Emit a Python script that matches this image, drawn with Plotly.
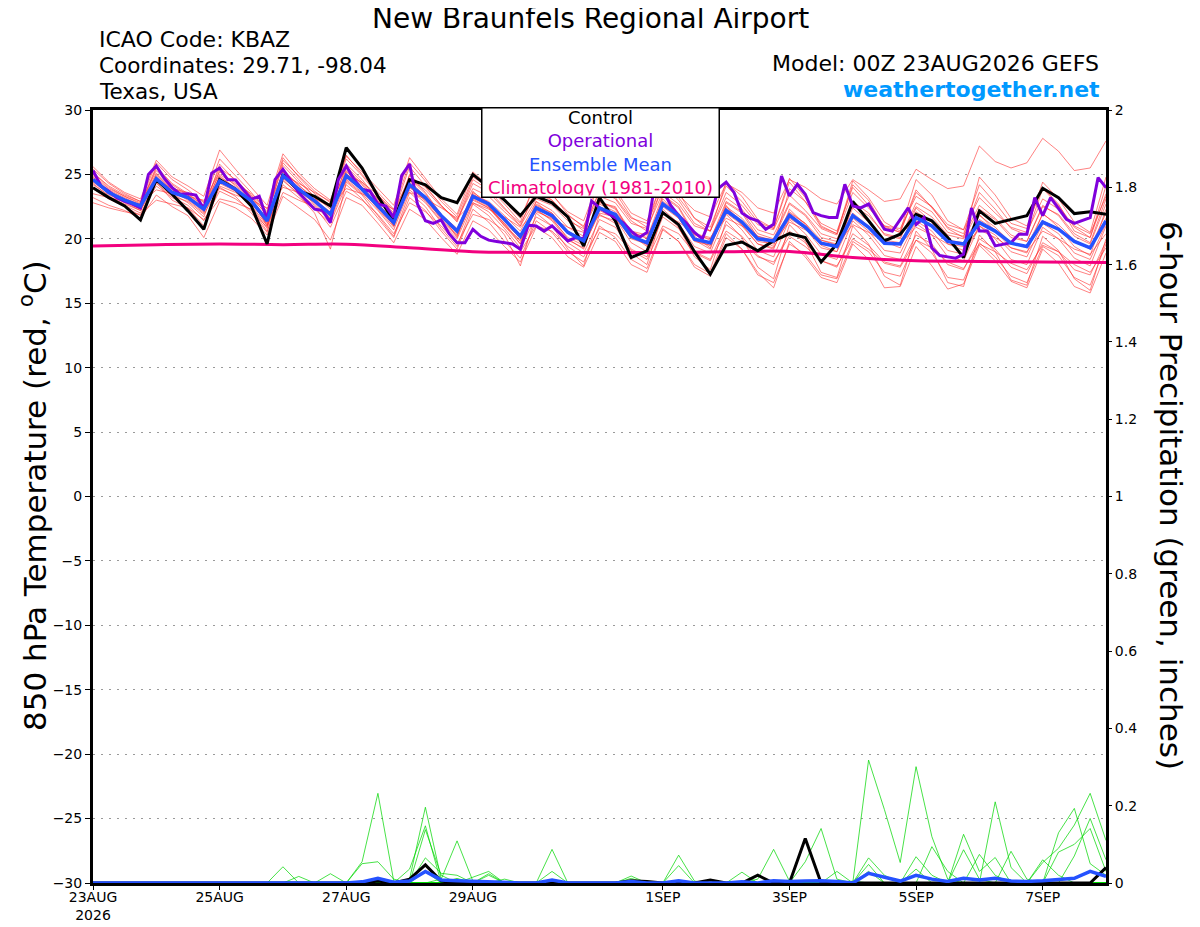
import pandas as pd
import plotly.graph_objects as go

# GEFS members / control / mean every 6 h, operational GFS every 3 h, 16 days
times = pd.date_range("2026-08-23 00:00", periods=65, freq="6h")
op_times = pd.date_range("2026-08-23 00:00", periods=129, freq="3h")
clim_times = pd.date_range("2026-08-23 00:00", periods=17, freq="1D")

tick_dates = ["2026-08-23", "2026-08-25", "2026-08-27", "2026-08-29",
              "2026-09-01", "2026-09-03", "2026-09-05", "2026-09-07"]
tick_text = ["23AUG<br>2026", "25AUG", "27AUG", "29AUG", "1SEP", "3SEP", "5SEP", "7SEP"]

# 850 hPa temperature (C)
control_t = [23.97, 23.2, 22.55, 21.47, 24.6, 23.46, 22.17, 20.74, 24.6, 23.85, 22.55, 19.6, 25.0, 23.7, 23.3, 22.55, 27.07,
             25.5, 23.3, 21.4, 24.6, 24.2, 23.2, 22.8, 25.0, 24.0, 23.0, 21.8, 23.3, 22.8, 21.7, 19.45, 23.2,
             21.4, 18.55, 19.07, 22.04, 21.1, 19.0, 17.26, 19.5, 19.75, 19.07, 19.85, 20.4, 20.1, 18.2, 19.6, 22.9,
             21.4, 19.84, 20.36, 21.9, 21.4, 20.1, 18.55, 22.17, 21.2, 21.5, 21.8, 23.93, 23.2, 21.96, 22.1, 21.9]

mean_t = [24.6, 23.6, 23.0, 22.55, 24.67, 23.6, 23.2, 22.3, 24.5, 23.85, 22.94, 21.4, 24.9, 23.85, 22.94, 21.9, 24.9,
          23.85, 22.55, 21.26, 24.2, 23.2, 21.8, 20.6, 23.3, 22.7, 21.5, 20.2, 22.4, 21.8, 20.5, 19.84, 22.4,
          21.9, 20.2, 19.7, 22.7, 21.8, 19.97, 19.7, 22.2, 21.3, 20.0, 19.84, 21.83, 20.9, 19.66, 19.4, 21.8,
          20.9, 19.66, 19.6, 21.65, 21.0, 19.8, 19.6, 21.26, 20.6, 19.66, 19.4, 21.3, 20.75, 19.8, 19.3, 21.4]

oper_t = [25.3, 24.1, 23.7, 23.2, 22.9, 22.7, 22.4, 25.0, 25.65, 24.7, 23.98, 23.46, 23.5, 23.4, 22.3, 25.1, 25.5,
          24.6, 24.57, 23.85, 23.07, 23.3, 21.5, 24.6, 25.4, 24.5, 23.6, 22.94, 22.3, 22.2, 21.26, 24.6, 25.65,
          24.6, 23.85, 23.7, 22.7, 22.55, 21.65, 24.9, 25.8, 22.7, 21.4, 21.2, 21.47, 20.4, 19.7, 19.7, 20.74,
          20.2, 19.9, 19.8, 19.7, 19.6, 19.2, 21.06, 21.0, 20.6, 21.0, 20.4, 19.84, 20.1, 20.0, 22.94, 22.4,
          22.0, 21.65, 21.26, 20.6, 20.1, 20.5, 24.3, 23.8, 22.6, 21.8, 21.2, 20.5, 20.0, 21.6, 23.9, 24.4,
          23.6, 22.0, 21.6, 21.4, 20.74, 21.13, 24.88, 23.33, 24.23, 23.46, 22.04, 21.8, 21.65, 21.65, 24.23, 22.55,
          22.4, 22.7, 21.7, 20.74, 20.6, 21.5, 22.4, 21.1, 21.65, 19.3, 18.7, 18.6, 18.5, 18.8, 22.4, 20.6,
          20.6, 19.45, 19.6, 19.7, 20.36, 20.36, 23.2, 21.8, 23.2, 22.4, 21.52, 21.2, 21.4, 21.65, 24.75, 23.97]

clim_t = [19.45, 19.55, 19.6, 19.55, 19.58, 19.3, 19.0, 18.94, 18.94, 18.94, 19.0, 19.02, 18.55, 18.3, 18.25, 18.2, 18.16]

members_t = [
    [25.4, 24.3, 23.5, 22.9, 25.9, 24.6, 23.8, 22.8, 26.2, 24.9, 23.6, 22.1, 26.3, 24.8, 23.5, 22.6, 26.2,
     24.9, 23.4, 22.0, 25.6, 24.1, 22.6, 21.4, 24.6, 23.8, 22.4, 21.0, 23.9, 23.0, 21.6, 20.6, 23.8,
     23.1, 21.4, 20.6, 24.2, 23.0, 21.2, 20.6, 23.6, 22.6, 21.1, 20.7, 23.4, 22.2, 20.8, 20.3, 23.6,
     22.4, 21.0, 20.8, 23.3, 22.5, 21.1, 20.7, 23.2, 22.0, 20.9, 20.5, 23.1, 22.3, 21.0, 20.4, 23.3],
    [22.8, 22.4, 22.1, 21.9, 23.0, 22.7, 22.4, 21.5, 23.1, 22.8, 22.3, 20.6, 23.6, 23.0, 22.5, 20.9, 23.7,
     23.0, 21.9, 20.4, 22.8, 22.1, 21.0, 19.6, 21.9, 21.5, 20.6, 19.0, 21.0, 20.6, 19.4, 18.6, 20.8,
     20.4, 19.1, 18.4, 21.0, 20.4, 18.9, 18.3, 20.6, 19.8, 18.6, 18.2, 20.2, 19.4, 18.3, 17.9, 20.0,
     19.2, 18.1, 17.8, 19.9, 19.3, 18.2, 17.7, 19.6, 19.0, 18.1, 17.6, 19.5, 19.0, 18.0, 17.4, 19.3],
    [25.0, 23.9, 23.3, 22.8, 25.3, 24.0, 23.4, 22.6, 25.0, 24.2, 23.2, 21.9, 25.7, 24.4, 23.3, 22.3, 25.6,
     24.4, 23.1, 21.9, 24.9, 24.0, 22.6, 21.3, 24.3, 23.6, 22.3, 21.2, 23.5, 23.0, 21.8, 21.0, 23.6,
     23.2, 21.6, 21.2, 24.0, 23.4, 22.2, 21.7, 24.3, 23.6, 22.4, 22.0, 24.6, 24.0, 23.1, 22.7, 24.6,
     23.8, 22.9, 23.1, 25.4, 24.6, 23.9, 24.1, 27.2, 26.0, 25.5, 25.9, 27.8, 26.8, 25.3, 25.5, 27.6],
    [24.2, 23.4, 22.9, 22.3, 24.9, 23.7, 23.0, 22.0, 25.3, 24.1, 23.1, 21.0, 25.4, 24.1, 23.2, 21.5, 25.2,
     24.3, 22.9, 21.0, 25.0, 23.6, 21.9, 20.1, 23.7, 22.5, 21.2, 19.6, 22.9, 21.6, 20.0, 19.2, 22.9,
     22.3, 20.4, 19.5, 23.1, 21.8, 19.9, 19.2, 22.6, 21.0, 19.6, 19.2, 22.3, 21.1, 19.5, 19.0, 22.8,
     21.4, 19.8, 19.3, 22.4, 21.3, 19.6, 19.1, 21.9, 20.6, 19.3, 18.9, 22.0, 20.9, 19.4, 18.7, 22.3],
    [24.0, 23.1, 22.5, 21.8, 24.4, 23.0, 22.4, 21.0, 24.0, 23.3, 22.0, 20.5, 24.6, 23.4, 22.0, 19.2, 24.4,
     23.4, 21.8, 20.2, 23.6, 22.5, 20.8, 19.4, 22.7, 21.8, 20.3, 17.9, 22.0, 21.0, 19.2, 17.9, 21.9,
     21.2, 18.9, 18.0, 22.1, 20.9, 18.6, 17.6, 21.4, 20.1, 17.8, 16.9, 21.1, 19.8, 17.4, 17.0, 21.0,
     19.6, 17.1, 16.4, 20.6, 19.2, 16.6, 16.3, 20.3, 19.0, 16.8, 16.4, 20.2, 19.1, 16.9, 16.0, 20.0],
    [25.6, 24.4, 23.6, 23.1, 26.1, 24.8, 24.1, 23.3, 26.9, 25.4, 24.0, 22.6, 26.6, 25.1, 23.9, 23.0, 26.4,
     25.2, 23.9, 22.6, 26.3, 24.7, 23.1, 21.9, 25.2, 24.1, 22.9, 21.6, 24.4, 23.4, 22.1, 21.4, 24.6,
     23.8, 22.0, 21.4, 24.5, 23.2, 21.6, 20.9, 24.1, 22.9, 21.3, 20.8, 24.4, 22.9, 21.2, 20.6, 24.0,
     22.6, 21.0, 20.5, 23.8, 22.4, 20.9, 20.4, 23.6, 22.3, 20.8, 20.3, 23.9, 22.6, 20.9, 20.1, 24.1],
    [23.5, 23.2, 22.9, 22.7, 23.8, 23.5, 23.3, 23.0, 23.9, 23.4, 23.0, 22.4, 24.0, 23.6, 23.1, 22.5, 23.9,
     23.5, 22.9, 22.3, 23.6, 23.1, 22.4, 21.6, 22.8, 22.3, 21.7, 20.9, 22.1, 21.6, 20.9, 20.5, 21.8,
     21.4, 20.6, 20.3, 21.9, 21.3, 20.4, 20.1, 21.6, 21.0, 20.2, 19.8, 21.3, 20.7, 19.9, 19.5, 21.1,
     20.5, 19.8, 19.6, 20.9, 20.3, 19.6, 19.4, 20.7, 20.1, 19.3, 19.0, 20.6, 20.0, 19.2, 18.8, 20.4],
    [24.9, 23.8, 23.2, 22.6, 25.1, 23.9, 23.3, 22.5, 24.8, 24.0, 22.8, 21.2, 25.3, 24.2, 23.0, 22.1, 25.8,
     24.6, 23.0, 21.6, 24.7, 23.5, 21.9, 20.7, 23.6, 22.8, 21.4, 20.0, 22.6, 22.0, 20.6, 19.9, 22.9,
     22.4, 20.6, 20.0, 23.4, 22.5, 20.4, 19.9, 22.9, 22.1, 20.4, 20.0, 22.7, 21.8, 20.1, 19.8, 22.9,
     22.0, 20.3, 20.0, 22.8, 22.1, 20.5, 20.2, 22.6, 21.6, 20.3, 19.8, 22.5, 21.9, 20.4, 19.7, 23.1],
    [24.5, 23.5, 22.8, 22.2, 24.3, 23.3, 22.9, 21.9, 24.1, 23.6, 22.6, 21.0, 24.5, 23.5, 22.6, 21.4, 24.5,
     23.5, 22.2, 20.7, 23.8, 22.8, 21.3, 20.0, 22.8, 22.1, 20.8, 19.3, 21.7, 21.0, 19.7, 18.9, 21.5,
     20.9, 19.2, 18.6, 21.7, 20.8, 19.0, 18.4, 21.1, 20.2, 18.7, 18.0, 20.6, 19.7, 18.3, 17.8, 20.4,
     19.5, 18.2, 17.9, 20.3, 19.6, 18.0, 17.6, 20.0, 19.2, 17.8, 17.3, 19.7, 19.0, 17.6, 17.2, 19.8],
    [24.7, 23.7, 23.1, 22.5, 25.5, 24.2, 23.4, 22.2, 25.8, 24.5, 23.3, 21.8, 25.9, 24.6, 23.2, 21.8, 25.3,
     24.0, 22.4, 21.1, 24.4, 23.2, 21.5, 20.3, 23.0, 22.4, 21.0, 19.9, 22.2, 21.5, 20.1, 19.5, 22.0,
     21.7, 20.0, 19.6, 22.8, 21.6, 19.8, 19.5, 22.4, 21.4, 19.8, 19.6, 22.0, 21.2, 19.6, 19.4, 22.4,
     21.3, 19.7, 19.6, 22.1, 21.3, 19.9, 19.7, 21.8, 20.9, 19.7, 19.4, 21.9, 21.1, 19.9, 19.3, 22.0],
    [25.2, 24.0, 23.3, 22.7, 25.6, 24.3, 23.5, 22.6, 25.5, 24.6, 23.4, 22.0, 26.1, 24.9, 23.7, 22.8, 26.5,
     25.0, 23.6, 22.3, 25.9, 24.5, 22.9, 21.7, 24.8, 24.0, 22.7, 21.3, 24.6, 23.5, 21.9, 20.9, 24.5,
     23.6, 21.7, 20.9, 24.8, 23.6, 21.6, 20.6, 24.4, 23.3, 21.5, 20.8, 24.7, 23.2, 21.0, 20.4, 24.5,
     23.2, 21.3, 20.6, 24.6, 23.4, 21.4, 20.7, 24.2, 22.8, 21.2, 20.8, 24.4, 23.1, 21.3, 20.5, 24.8],
    [23.9, 23.1, 22.6, 22.0, 24.1, 23.2, 22.6, 21.4, 23.7, 23.1, 22.2, 20.9, 24.2, 23.2, 22.3, 21.2, 24.2,
     23.1, 21.6, 20.1, 23.2, 22.2, 20.6, 19.2, 22.3, 21.3, 19.8, 18.5, 21.4, 20.5, 19.0, 18.2, 21.0,
     20.1, 18.4, 17.7, 20.8, 19.8, 18.0, 17.3, 20.4, 19.2, 17.4, 16.2, 19.8, 18.6, 17.0, 16.6, 19.6,
     18.4, 16.2, 16.3, 19.4, 17.9, 16.1, 16.5, 19.5, 18.3, 16.7, 16.2, 19.2, 18.1, 16.3, 15.8, 18.9],
    [24.4, 23.5, 23.0, 22.4, 24.6, 23.6, 23.1, 22.4, 24.4, 23.8, 23.1, 21.6, 24.8, 23.9, 23.0, 21.7, 24.7,
     23.8, 22.7, 21.5, 24.0, 23.1, 21.9, 20.8, 23.4, 22.9, 21.8, 20.6, 22.9, 22.2, 20.9, 20.2, 22.7,
     22.1, 20.5, 20.1, 22.9, 22.0, 20.3, 20.0, 22.5, 21.6, 20.2, 19.9, 22.1, 21.2, 19.9, 19.6, 22.0,
     21.0, 19.9, 19.7, 21.8, 21.1, 19.9, 19.6, 21.5, 20.7, 19.7, 19.3, 21.4, 20.8, 19.8, 19.2, 21.6],
    [24.8, 23.6, 22.9, 22.3, 25.0, 23.8, 23.1, 22.1, 24.6, 23.7, 22.5, 20.8, 24.9, 23.8, 22.7, 21.5, 25.1,
     23.9, 22.3, 20.9, 24.1, 22.9, 21.4, 20.2, 23.2, 22.5, 21.0, 19.6, 22.7, 22.0, 20.4, 19.6, 22.8,
     22.5, 20.3, 19.4, 23.3, 22.4, 20.2, 19.3, 22.8, 22.0, 20.1, 19.4, 23.9, 22.9, 20.9, 20.4, 24.2,
     23.0, 20.9, 20.5, 23.6, 22.5, 20.8, 20.1, 24.8, 23.4, 21.6, 21.0, 24.0, 22.7, 20.6, 20.1, 23.5],
    [24.3, 23.3, 22.7, 22.2, 24.7, 23.5, 22.8, 21.7, 24.9, 23.9, 22.7, 21.3, 25.2, 24.0, 22.9, 21.6, 25.5,
     24.2, 22.5, 21.0, 24.5, 23.3, 21.7, 20.4, 23.5, 22.6, 21.1, 19.8, 22.3, 21.4, 19.9, 19.3, 22.2,
     21.6, 19.7, 19.0, 22.3, 21.2, 19.4, 18.9, 21.9, 20.7, 19.1, 18.6, 21.5, 20.4, 18.8, 18.4, 21.4,
     20.3, 18.7, 18.4, 21.2, 20.3, 18.6, 18.3, 21.0, 20.0, 18.4, 18.0, 20.9, 20.0, 18.5, 17.9, 21.0],
    [25.1, 24.1, 23.4, 22.9, 24.6, 23.9, 23.6, 22.9, 25.2, 24.3, 23.5, 22.3, 25.0, 24.3, 23.6, 22.9, 25.0,
     24.4, 23.4, 22.2, 24.6, 23.8, 22.5, 21.5, 23.9, 23.3, 22.1, 21.0, 23.1, 22.6, 21.4, 20.8, 23.3,
     22.8, 21.2, 20.8, 23.6, 22.7, 21.0, 20.6, 23.2, 22.3, 20.7, 20.3, 22.8, 21.9, 20.4, 20.0, 22.6,
     21.8, 20.4, 20.1, 22.5, 21.7, 20.3, 20.0, 22.3, 21.5, 20.1, 19.8, 22.6, 21.8, 20.2, 19.6, 22.7],
    [23.2, 22.6, 22.2, 21.6, 23.4, 22.5, 21.8, 20.1, 22.9, 22.4, 21.6, 20.3, 23.3, 22.4, 21.5, 19.9, 23.2,
     22.6, 21.2, 19.7, 22.3, 21.5, 20.1, 18.8, 21.4, 20.7, 19.4, 18.2, 20.9, 20.1, 18.6, 17.8, 20.5,
     19.8, 18.0, 17.4, 20.7, 19.8, 17.8, 17.1, 20.1, 19.2, 17.2, 16.6, 19.6, 18.8, 17.2, 16.9, 19.8,
     19.0, 17.4, 17.1, 19.9, 18.9, 17.0, 16.8, 19.7, 18.6, 17.1, 16.6, 19.4, 18.7, 17.0, 16.4, 19.6],
    [24.6, 23.6, 23.1, 22.6, 24.8, 23.7, 23.2, 22.2, 24.3, 23.7, 22.9, 21.1, 24.7, 23.7, 22.8, 21.8, 24.6,
     23.6, 22.4, 21.1, 24.0, 23.0, 21.6, 20.5, 23.1, 22.4, 21.2, 20.1, 22.5, 21.9, 20.6, 19.9, 22.5,
     21.9, 20.1, 19.6, 22.5, 21.6, 19.9, 19.5, 22.0, 21.1, 19.6, 19.3, 21.6, 20.8, 19.3, 19.0, 21.6,
     20.6, 19.1, 18.9, 21.4, 20.6, 19.1, 18.8, 21.0, 20.3, 19.0, 18.6, 21.2, 20.4, 18.9, 18.4, 21.2],
]

# 6-hour precipitation (inches), step index -> amount; unlisted steps are dry
members_p = [
    {12: 0.042, 17: 0.055, 18: 0.232, 19: 0.005, 34: 0.018},
    {13: 0.017, 22: 0.01, 23: 0.109, 24: 0.005, 34: 0.012},
    {15: 0.024, 24: 0.015, 25: 0.03},
    {17: 0.05, 18: 0.055, 19: 0.01, 25: 0.024, 37: 0.072, 38: 0.005},
    {20: 0.01, 21: 0.196, 22: 0.01, 25: 0.02, 37: 0.045},
    {20: 0.036, 21: 0.148, 41: 0.028},
    {21: 0.138, 22: 0.02, 42: 0.01, 43: 0.087, 44: 0.005},
    {21: 0.065, 22: 0.025, 23: 0.02, 45: 0.055, 46: 0.141, 47: 0.01},
    {21: 0.03, 23: 0.012, 47: 0.03, 49: 0.065, 50: 0.02},
    {29: 0.087, 49: 0.318, 50: 0.19, 51: 0.053, 52: 0.301, 53: 0.12, 54: 0.01},
    {29: 0.03, 49: 0.048, 52: 0.068, 53: 0.02, 55: 0.086, 56: 0.01},
    {26: 0.01, 49: 0.03, 52: 0.036, 56: 0.074, 57: 0.02},
    {48: 0.005, 53: 0.094, 54: 0.03, 58: 0.082, 59: 0.01},
    {55: 0.126, 56: 0.03, 57: 0.066, 61: 0.08, 62: 0.1, 63: 0.141, 64: 0.03},
    {57: 0.21, 58: 0.04, 60: 0.06, 61: 0.02},
    {60: 0.053, 61: 0.09, 62: 0.15, 63: 0.232, 64: 0.11},
    {61: 0.13, 62: 0.193, 63: 0.05, 64: 0.02},
    {62: 0.07, 63: 0.167, 64: 0.06},
]
control_p = {18: 0.005, 20: 0.01, 21: 0.047, 22: 0.005, 34: 0.006, 35: 0.004,
             39: 0.008, 42: 0.02, 45: 0.115, 64: 0.04}
mean_p = {17: 0.003, 18: 0.012, 19: 0.002, 20: 0.005, 21: 0.03, 22: 0.008, 23: 0.006,
          24: 0.004, 25: 0.004, 29: 0.008, 34: 0.004, 37: 0.006, 41: 0.003, 43: 0.006,
          44: 0.004, 45: 0.005, 46: 0.006, 47: 0.004, 49: 0.025, 50: 0.015, 51: 0.005,
          52: 0.02, 53: 0.01, 54: 0.004, 55: 0.012, 56: 0.008, 57: 0.012, 58: 0.005,
          59: 0.004, 60: 0.006, 61: 0.008, 62: 0.012, 63: 0.03, 64: 0.017}


def expand(sparse):
    return [sparse.get(i, 0.0) for i in range(len(times))]


RED = "rgba(255,45,45,0.75)"
GREEN = "rgba(0,215,0,0.9)"
PURPLE = "#8000dc"
BLUE = "#2552ff"
MAGENTA = "#f2007f"
FONT = "DejaVu Sans, Verdana, sans-serif"

# the page body adds an 8 px margin, so the figure is 8 px smaller than the window
OFF = 8
W, H = 1200 - OFF, 927 - OFF
# plot area in window pixels
L, R, T, B = 93, 1106, 110, 883


def px(x):
    return (x - L) / (R - L)


def py(y):
    return (B - y) / (B - T)


fig = go.Figure()

for m in members_t:
    fig.add_trace(go.Scatter(x=times[:len(m)], y=m, mode="lines",
                             line=dict(color=RED, width=0.8), hoverinfo="skip"))
for m in members_p:
    fig.add_trace(go.Scatter(x=times, y=expand(m), mode="lines", yaxis="y2",
                             line=dict(color=GREEN, width=0.8), hoverinfo="skip"))

fig.add_trace(go.Scatter(x=clim_times, y=clim_t, mode="lines", line=dict(color=MAGENTA, width=3, shape="spline")))
fig.add_trace(go.Scatter(x=times[:len(control_t)], y=control_t, mode="lines", line=dict(color="black", width=3)))
fig.add_trace(go.Scatter(x=op_times[:len(oper_t)], y=oper_t, mode="lines", line=dict(color=PURPLE, width=3)))
fig.add_trace(go.Scatter(x=times[:len(mean_t)], y=mean_t, mode="lines", line=dict(color=BLUE, width=3.5)))

fig.add_trace(go.Scatter(x=times, y=expand(control_p), mode="lines", yaxis="y2", line=dict(color="black", width=3)))
fig.add_trace(go.Scatter(x=times, y=expand(mean_p), mode="lines", yaxis="y2", line=dict(color=BLUE, width=3.5)))

fig.update_layout(
    width=W, height=H,
    margin=dict(l=L - OFF, r=1200 - R, t=T - OFF, b=927 - B, autoexpand=False),
    paper_bgcolor="white", plot_bgcolor="white",
    showlegend=False,
    font=dict(family=FONT, size=14, color="black"),
    xaxis=dict(range=[times[0], times[-1]], tickvals=pd.to_datetime(tick_dates), ticktext=tick_text,
               showgrid=False, showline=True, linewidth=3, linecolor="black", mirror=True,
               ticks="outside", ticklen=4, tickcolor="black", zeroline=False, automargin=False,
               ticklabelstandoff=-5, tickfont=dict(size=14)),
    yaxis=dict(range=[-30, 30], dtick=5, showline=True, linewidth=3, linecolor="black", mirror=True,
               ticks="outside", ticklen=5, tickcolor="black", zeroline=False, automargin=False,
               showgrid=True, gridcolor="#9a9a9a", griddash="2px,6px", gridwidth=1),
    yaxis2=dict(range=[0, 2], dtick=0.2, overlaying="y", side="right", showgrid=False, zeroline=False,
                ticks="outside", ticklen=5, tickcolor="black", showline=False, automargin=False),
)

texts = [
    ("New Braunfels Regional Airport", 590, 19, "center", 28, "black", False),
    ("ICAO Code: KBAZ", 97, 40, "left", 22, "black", False),
    ("Coordinates: 29.71, -98.04", 97, 66, "left", 21.5, "black", False),
    ("Texas, USA", 97, 92, "left", 21.5, "black", False),
    ("Model: 00Z 23AUG2026 GEFS", 1101, 63, "right", 22, "black", False),
    ("weathertogether.net", 1102, 89, "right", 22, "#0099ff", True),
]
for txt, x, y, anchor, size, color, bold in texts:
    fig.add_annotation(text=f"<b>{txt}</b>" if bold else txt, xref="paper", yref="paper",
                       x=px(x), y=py(y), xanchor=anchor, yanchor="middle", showarrow=False,
                       font=dict(size=size, color=color, family=FONT))

fig.add_annotation(text="850 hPa Temperature (red, <sup>o</sup>C)", xref="paper", yref="paper",
                   x=px(33), y=py(496), textangle=-90, showarrow=False, xanchor="center", yanchor="middle",
                   font=dict(size=31, family=FONT))
fig.add_annotation(text="6-hour Precipitation (green, inches)", xref="paper", yref="paper",
                   x=px(1171), y=py(495), textangle=90, showarrow=False, xanchor="center", yanchor="middle",
                   font=dict(size=31, family=FONT))

legend_text = ("<span style='color:black'>Control</span><br>"
               f"<span style='color:{PURPLE}'>Operational</span><br>"
               f"<span style='color:{BLUE}'>Ensemble Mean</span><br>"
               f"<span style='color:{MAGENTA}'>Climatology (1981-2010)</span>")
fig.add_annotation(text=legend_text, xref="paper", yref="paper", x=px(600), y=py(153),
                   xanchor="center", yanchor="middle", showarrow=False, align="center",
                   width=234, height=86, bgcolor="white", bordercolor="black", borderwidth=1.5,
                   font=dict(size=18, family=FONT))

fig.write_html("out.html")
